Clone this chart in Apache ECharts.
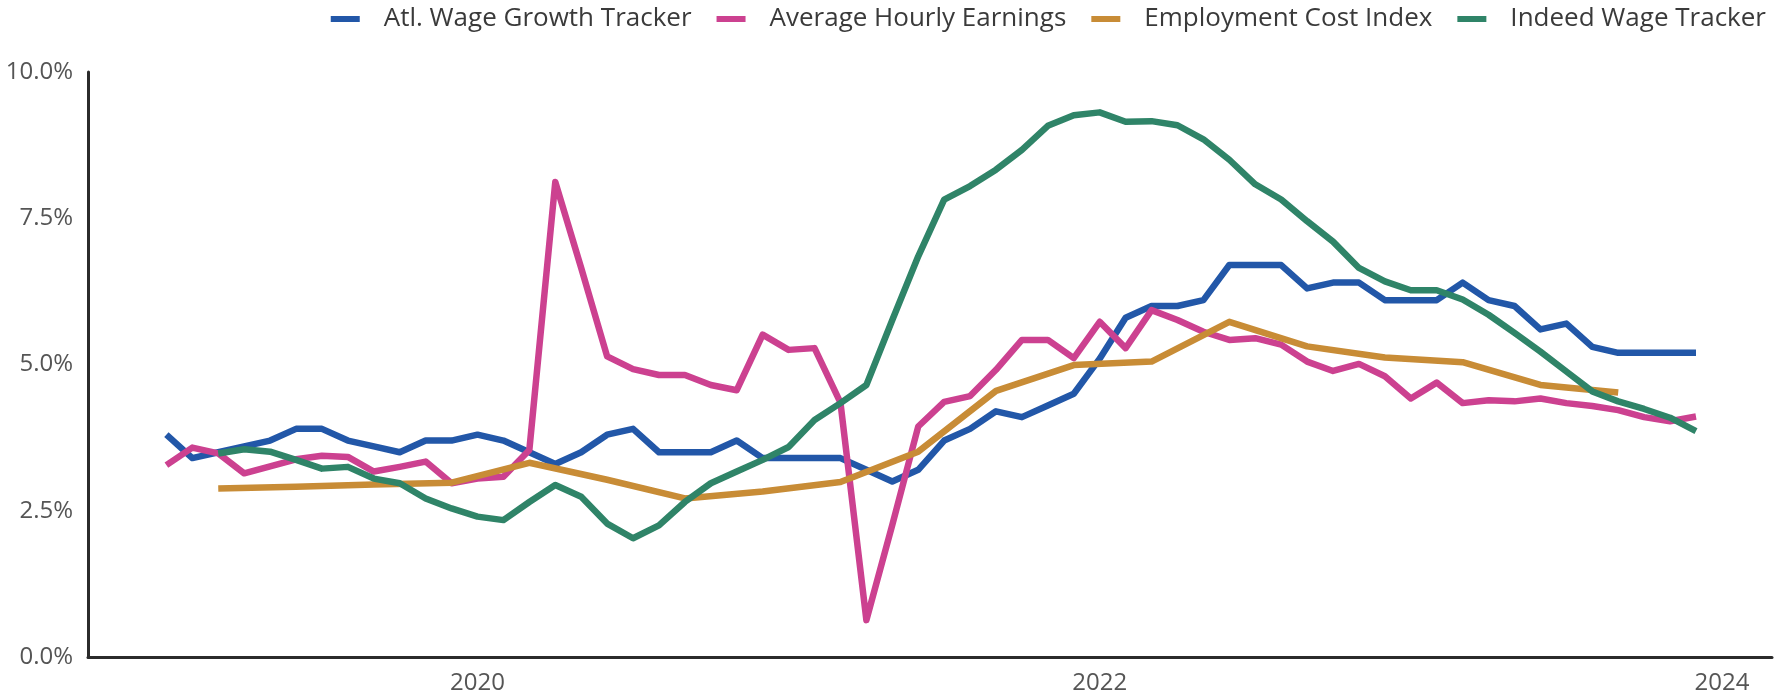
<!DOCTYPE html>
<html>
<head>
<meta charset="utf-8">
<script src="https://cdn.jsdelivr.net/npm/echarts@6/dist/echarts.min.js"></script>
<style>
html,body{margin:0;padding:0;background:#fff;}
#chart{width:1775px;height:699px;}
</style>
</head>
<body>
<div id="chart"></div>
<script>
const seriesNames = ['Atl. Wage Growth Tracker', 'Average Hourly Earnings', 'Employment Cost Index', 'Indeed Wage Tracker'];
const seriesColors = ['#2257A8', '#CC4190', '#C88C36', '#2F8468'];

const months = [
'2019-01','2019-02','2019-03','2019-04','2019-05','2019-06','2019-07','2019-08','2019-09','2019-10','2019-11','2019-12',
'2020-01','2020-02','2020-03','2020-04','2020-05','2020-06','2020-07','2020-08','2020-09','2020-10','2020-11','2020-12',
'2021-01','2021-02','2021-03','2021-04','2021-05','2021-06','2021-07','2021-08','2021-09','2021-10','2021-11','2021-12',
'2022-01','2022-02','2022-03','2022-04','2022-05','2022-06','2022-07','2022-08','2022-09','2022-10','2022-11','2022-12',
'2023-01','2023-02','2023-03','2023-04','2023-05','2023-06','2023-07','2023-08','2023-09','2023-10','2023-11','2023-12'
];

const atlanta = [
3.8,3.4,3.5,3.6,3.7,3.9,3.9,3.7,3.6,3.5,3.7,3.7,
3.8,3.7,3.5,3.3,3.5,3.8,3.9,3.5,3.5,3.5,3.7,3.4,
3.4,3.4,3.4,3.2,3.0,3.2,3.7,3.9,4.2,4.1,4.3,4.5,
5.1,5.8,6.0,6.0,6.1,6.7,6.7,6.7,6.3,6.4,6.4,6.1,
6.1,6.1,6.4,6.1,6.0,5.6,5.7,5.3,5.2,5.2,5.2,5.2
];

const hourlyEarnings = [
3.28,3.58,3.48,3.14,3.26,3.38,3.44,3.42,3.17,3.25,3.34,2.97,
3.05,3.08,3.54,8.12,6.65,5.14,4.92,4.82,4.82,4.65,4.56,5.51,
5.25,5.28,4.35,0.63,2.26,3.94,4.36,4.46,4.91,5.42,5.42,5.11,
5.73,5.28,5.93,5.76,5.56,5.42,5.45,5.34,5.05,4.89,5.01,4.80,
4.42,4.69,4.34,4.39,4.37,4.42,4.34,4.29,4.22,4.10,4.03,4.11
];

const indeed = [
null,null,3.48,3.55,3.51,3.37,3.22,3.25,3.05,2.97,2.71,2.54,
2.40,2.34,2.65,2.94,2.74,2.28,2.03,2.25,2.65,2.97,3.17,3.37,
3.59,4.05,4.34,4.65,5.76,6.85,7.82,8.05,8.33,8.67,9.08,9.26,
9.31,9.15,9.16,9.09,8.85,8.50,8.08,7.82,7.45,7.10,6.65,6.42,
6.27,6.27,6.11,5.85,5.54,5.22,4.88,4.54,4.37,4.24,4.09,3.86
];

const eciQuarters = [
'2019-03','2019-06','2019-09','2019-12',
'2020-03','2020-06','2020-09','2020-12',
'2021-03','2021-06','2021-09','2021-12',
'2022-03','2022-06','2022-09','2022-12',
'2023-03','2023-06','2023-09'
];
const eci = [2.88,2.91,2.95,2.98,3.32,3.03,2.71,2.83,2.99,3.51,4.55,4.99,5.05,5.73,5.31,5.12,5.04,4.65,4.52];

const xLabelYears = [2020, 2022, 2024];
const xRange = [2018.748, 2024.161];

// convert 'YYYY-MM' to a fractional year position on the axis
function yearPos(s) {
  const p = s.split('-').map(Number);
  return p[0] + (p[1] - 1) / 12;
}
function pair(dates, vals) { return dates.map((d, i) => [yearPos(d), vals[i]]); }

const chart = echarts.init(document.getElementById('chart'), null, {renderer: 'canvas'});

const lineSeries = (name, color, data) => ({
  name: name, type: 'line', data: data, showSymbol: false, symbol: 'none',
  connectNulls: false,
  lineStyle: {color: color, width: 6.5, join: 'round', cap: 'butt'},
  itemStyle: {color: color},
  emphasis: {disabled: true}
});

chart.setOption({
  animation: false,
  color: seriesColors,
  textStyle: {fontFamily: 'Open Sans'},
  legend: {
    top: 1, right: 4,
    icon: 'rect', itemWidth: 29, itemHeight: 6, itemGap: 25,
    formatter: name => '{g|}' + name,
    textStyle: {fontFamily: 'Open Sans', fontSize: 26, color: '#3a3a3a', rich: {g: {width: 19}}},
    data: seriesNames
  },
  grid: {left: 88, right: 3, top: 72, bottom: 42, containLabel: false},
  xAxis: {
    type: 'value',
    min: xRange[0], max: xRange[1],
    axisLine: {show: true, lineStyle: {color: '#2b2b2b', width: 3}},
    axisTick: {show: false},
    splitLine: {show: false},
    axisLabel: {
      customValues: xLabelYears,
      formatter: v => String(Math.round(v)),
      fontFamily: 'Open Sans', fontSize: 24, color: '#555', margin: 14
    }
  },
  yAxis: {
    type: 'value', min: 0, max: 10, interval: 2.5,
    axisLine: {show: true, lineStyle: {color: '#2b2b2b', width: 3}},
    axisTick: {show: false},
    splitLine: {show: false},
    axisLabel: {
      formatter: v => v.toFixed(1) + '%',
      fontFamily: 'Open Sans', fontSize: 24, color: '#555', margin: 15
    }
  },
  series: [
    lineSeries(seriesNames[0], seriesColors[0], pair(months, atlanta)),
    lineSeries(seriesNames[1], seriesColors[1], pair(months, hourlyEarnings)),
    lineSeries(seriesNames[2], seriesColors[2], pair(eciQuarters, eci)),
    lineSeries(seriesNames[3], seriesColors[3], pair(months, indeed))
  ]
});
</script>
</body>
</html>
